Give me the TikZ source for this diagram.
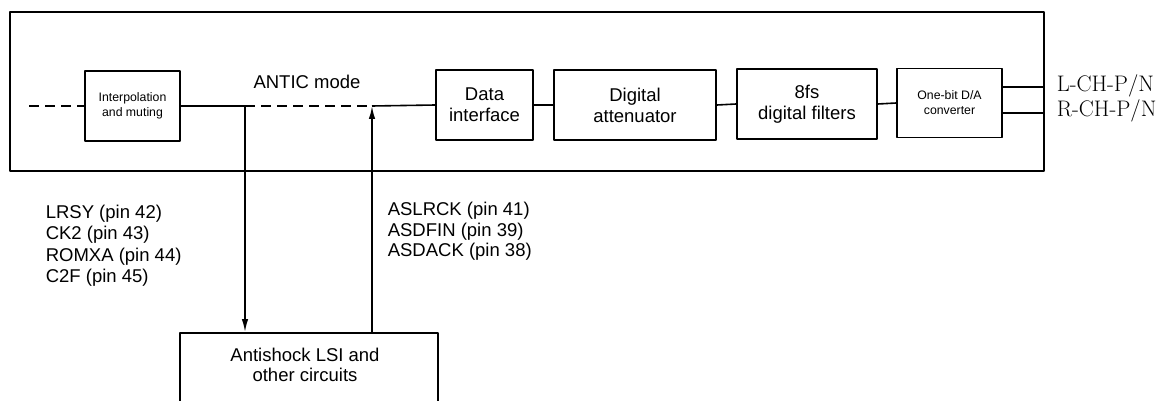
\documentclass[tikz,border=0pt]{standalone}
\usepackage{fontspec}
\newfontfamily\sansf{Liberation Sans}
\usetikzlibrary{arrows.meta,calc}

\begin{document}
\begin{tikzpicture}[x=1pt, y=-1pt, line width=1.6pt, line join=round,
    blk/.style={draw, minimum height=70pt, inner sep=0pt, align=center,
      font=\sansf\fontsize{18.5}{21}\selectfont},
    small/.style={blk, font=\sansf\fontsize{12.3}{15}\selectfont},
    lbl/.style={align=left, inner sep=0pt, font=\sansf\fontsize{18.5}{21.5}\selectfont},
    dashline/.style={dash pattern=on 10pt off 6pt},
    >={Latex[length=13pt,width=6.5pt]}]
    \useasboundingbox (0,0) rectangle (1169,401);
    % outer frame
    \draw (10,12) rectangle (1044,171);
    % signal chain
    \node[small, minimum width=95pt]  (interp) at (132.5,106) {Interpolation\\and muting};
    \node[blk, minimum width=97pt]    (data)   at (484.5,105) {Data\\interface};
    \node[blk, minimum width=162pt]   (atten)  at (635,105)   {Digital\\attenuator};
    \node[blk, minimum width=140pt]   (filt)   at (807,104)   {8fs\\digital filters};
    \node[small, minimum width=105pt, minimum height=69pt] (da) at (949.5,103) {One-bit D/A\\converter};
    \coordinate (start) at (29,106);
    \coordinate (tap)   at (245,106);
    \coordinate (join)  at (372,106);
    \draw[dashline] (start) -- (interp.west);
    \draw (interp.east) -- (tap);
    \draw[dashline] (tap) -- (join);
    \draw (join) -- (data.west);
    \draw (data.east) -- (atten.west);
    \draw (atten.east) -- (filt.west);
    \draw (filt.east) -- (da.west);
    \node[font=\sansf\fontsize{18.5}{21}\selectfont] (antic) at (307,82) {ANTIC mode};
    % outputs
    \coordinate (lout) at (1044,87);
    \coordinate (rout) at (1044,113);
    \draw (da.east |- lout) -- (lout);
    \draw (da.east |- rout) -- (rout);
    \node[anchor=west, inner sep=0pt, font=\fontsize{22.5}{26}\selectfont] (lch) at (1056,86) {L-CH-P/N};
    \node[anchor=west, inner sep=0pt, font=\fontsize{22.5}{26}\selectfont] (rch) at (1056,111) {R-CH-P/N};
    % antishock block
    \node[draw, minimum width=258pt, minimum height=90pt, anchor=north] (anti) at (309,332) {};
    \node[align=center, inner sep=0pt, font=\sansf\fontsize{18.5}{20}\selectfont] (antitxt) at (305,365)
        {Antishock LSI and\\other circuits};
    \draw[->] (tap) -- (anti.north -| tap);
    \draw[->] (anti.north -| join) -- (join);
    % pin labels
    \node[lbl, anchor=west] (pinsl) at (45,245.5) {LRSY (pin 42)\\CK2 (pin 43)\\ROMXA (pin 44)\\C2F (pin 45)};
    \node[lbl, anchor=west, font=\sansf\fontsize{18.5}{20.5}\selectfont] (pinsr) at (387,231.5)
        {ASLRCK (pin 41)\\ASDFIN (pin 39)\\ASDACK (pin 38)};
\end{tikzpicture}
\end{document}
